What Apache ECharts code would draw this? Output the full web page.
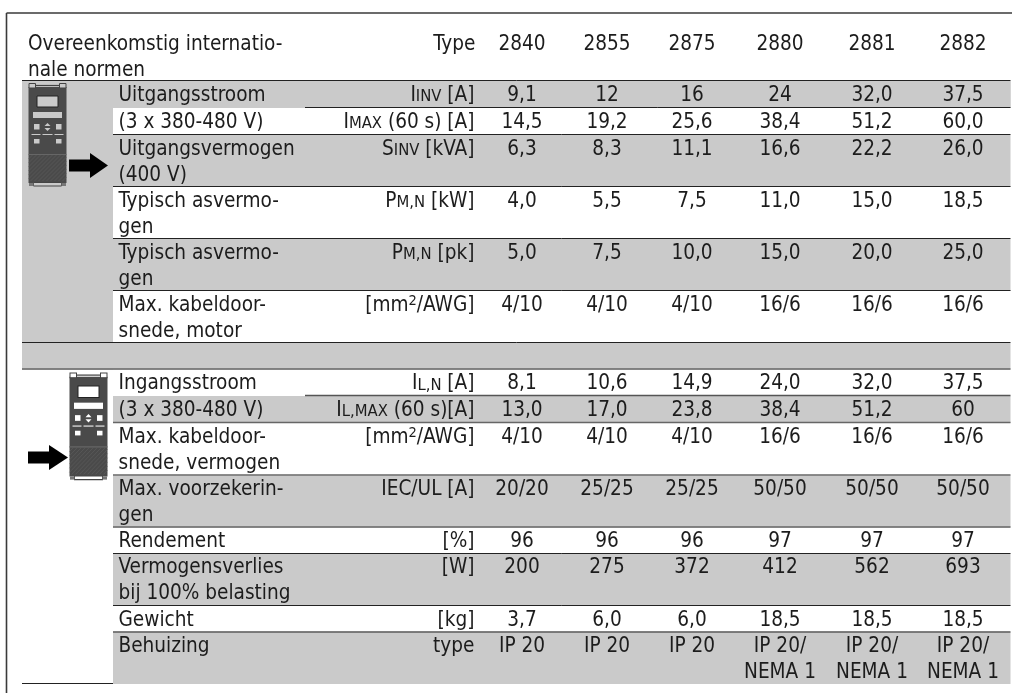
<!DOCTYPE html>
<html><head><meta charset="utf-8">
<style>html,body{margin:0;padding:0;background:#fff}#c{width:1012px;height:693px}</style>
<script src="https://cdn.jsdelivr.net/npm/echarts@6/dist/echarts.min.js"></script>
</head><body><div id="c"></div>
<script>
// ---- table content ----
const typeHeader = ['2840','2855','2875','2880','2881','2882'];
const rowLabels = ['Uitgangsstroom','(3 x 380-480 V)','Uitgangsvermogen\n(400 V)','Typisch asvermo-\ngen','Typisch asvermo-\ngen','Max. kabeldoor-\nsnede, motor',
  'Ingangsstroom','(3 x 380-480 V)','Max. kabeldoor-\nsnede, vermogen','Max. voorzekerin-\ngen','Rendement','Vermogensverlies\nbij 100% belasting','Gewicht','Behuizing'];
const paramLabels = ['{n|I}{s|INV}{n| [A]}','{n|I}{s|MAX}{n| (60 s) [A]}','{n|S}{s|INV}{n| [kVA]}','{n|P}{s|M,N}{n| [kW]}','{n|P}{s|M,N}{n| [pk]}','{n|[mm}{u|2}{n|/AWG]}',
  '{n|I}{s|L,N}{n| [A]}','{n|I}{s|L,MAX}{n| (60 s)[A]}','{n|[mm}{u|2}{n|/AWG]}','{n|IEC/UL [A]}','{n|[%]}','{n|[W]}','{n|[kg]}','{n|type}'];
const col2840 = ['9,1','14,5','6,3','4,0','5,0','4/10','8,1','13,0','4/10','20/20','96','200','3,7','IP 20'];
const col2855 = ['12','19,2','8,3','5,5','7,5','4/10','10,6','17,0','4/10','25/25','96','275','6,0','IP 20'];
const col2875 = ['16','25,6','11,1','7,5','10,0','4/10','14,9','23,8','4/10','25/25','96','372','6,0','IP 20'];
const col2880 = ['24','38,4','16,6','11,0','15,0','16/6','24,0','38,4','16/6','50/50','97','412','18,5','IP 20/\nNEMA 1'];
const col2881 = ['32,0','51,2','22,2','15,0','20,0','16/6','32,0','51,2','16/6','50/50','97','562','18,5','IP 20/\nNEMA 1'];
const col2882 = ['37,5','60,0','26,0','18,5','25,0','16/6','37,5','60','16/6','50/50','97','693','18,5','IP 20/\nNEMA 1'];
const valueCols = [col2840,col2855,col2875,col2880,col2881,col2882];

// ---- layout (separate from the content) ----
const rowTop = [81,108,135,187,239,291,369.5,396,423,475.5,527.5,553.5,606,632.5];
const rowBottom = [108,135,187,239,291,343,396,423,475.5,527.5,553.5,606,632.5,684];
const colCenter = [522,607,692,780,872,963];
const X = {tableL:22, labelL:113, paramR:474.5, partial:305, tableR:1010.5, labelText:118.5, headText:28};
const GREY = '#cacaca', INK = '#1c1c1c';
const FONT = '"DejaVu Sans Condensed","DejaVu Sans",sans-serif', FS = 20.6;
const TEXT_DY = 1.5;
const greyRows = [0,2,4,7,9,11,13];
const rects = [[X.tableL,81,X.labelL,369.5,GREY],[X.tableL,81,X.tableR,108,GREY],[X.tableL,343,X.tableR,369.5,GREY]];
greyRows.forEach(r=>rects.push([X.labelL,rowTop[r],X.tableR,rowBottom[r],GREY]));
const lines = [
 [X.tableL,80.5,X.tableR,'#222',1],[X.partial,107.5,X.tableR,'#222',1],[X.labelL,134.5,X.tableR,'#222',1],
 [X.labelL,186.5,X.tableR,'#222',1],[X.labelL,238.5,X.tableR,'#222',1],[X.labelL,290.5,X.tableR,'#222',1],
 [X.tableL,342.5,X.tableR,'#222',1],[X.tableL,369,X.tableR,'#666',1.5],[X.partial,395.5,X.tableR,'#555',1.5],
 [X.labelL,422.5,X.tableR,'#666',1.5],[X.labelL,475,X.tableR,'#666',1.5],[X.labelL,527,X.tableR,'#666',1.5],
 [X.labelL,553.5,X.tableR,'#222',1],[X.labelL,605.5,X.tableR,'#222',1],[X.labelL,632,X.tableR,'#555',1.5],
 [X.tableL,683.5,X.labelL,'#222',1]];
const frame = [[6.5,693,6.5,13],[6.5,13,1012,13]];

// text items [x, y, text, align]
const texts = [];
texts.push([X.headText,30+TEXT_DY,'Overeenkomstig internatio-\nnale normen','left']);
texts.push([X.paramR+1,30+TEXT_DY,'Type','right']);
typeHeader.forEach((t,i)=>texts.push([colCenter[i],30+TEXT_DY,t,'center']));
rowLabels.forEach((t,r)=>{
  const y=rowTop[r]+TEXT_DY;
  texts.push([X.labelText,y,t,'left']);
  texts.push([X.paramR,y,paramLabels[r],'right']);
  valueCols.forEach((c,i)=>texts.push([colCenter[i],y,c[r],'center']));
});

function deviceParts(hole){
  const R=(x,y,w,h,f,s)=>({type:'rect',shape:{x,y,width:w,height:h},style:{fill:f,stroke:s||null,lineWidth:s?1:0}});
  const L=(x1,y1,x2,y2,c,w)=>({type:'line',shape:{x1,y1,x2,y2},style:{stroke:c,lineWidth:w}});
  const DARK='#4a4a4a';
  const out=[R(0,4,38,96,DARK)];
  out.push(R(0.5,0.5,6.5,4.5,hole,'#444'),R(31,0.5,6.5,4.5,hole,'#444'),L(7,2.5,31,2.5,'#444',1.2));
  out.push(R(5,99.5,28,3.5,hole,'#444'),R(0.5,100,4.5,3,'#777'),R(33,100,4.5,3,'#777'));
  out.push(R(8.5,13,21,11,hole,'#222'),R(4.5,29,29,6,hole),R(5.5,41,5.5,5.5,hole),R(27.5,41,5.5,5.5,hole),R(5.5,56,5.5,4.5,hole),R(27.5,56,5.5,4.5,hole));
  out.push({type:'polygon',shape:{points:[[16,43],[19,40],[22,43]]},style:{fill:hole}});
  out.push({type:'polygon',shape:{points:[[16,45],[19,48],[22,45]]},style:{fill:hole}});
  out.push(L(3,51.5,12,51.5,hole,1),L(14,51.5,24,51.5,hole,1),L(26,51.5,35,51.5,hole,1));
  out.push(L(0,71.5,38,71.5,'#666',1));
  for(let k=-26;k<38;k+=4){
    const x0=Math.max(0,k),x1=Math.min(38,k+26);
    out.push(L(x0,98-(x0-k),x1,98-(x1-k),'#5c5c5c',0.7));
  }
  return out;
}
function arrowParts(shaftW,headW,h){
  return [
   {type:'rect',shape:{x:0,y:h/2-6,width:shaftW,height:12},style:{fill:'#000'}},
   {type:'polygon',shape:{points:[[shaftW-1,0],[shaftW+headW,h/2],[shaftW-1,h]]},style:{fill:'#000'}}];
}
const icons = [
  {type:'group',x:28.5,y:83,children:deviceParts('#cacaca')},
  {type:'group',x:69,y:153,children:arrowParts(22,17,25)},
  {type:'group',x:69.5,y:372.5,scaleY:1.04,children:deviceParts('#ffffff')},
  {type:'group',x:28,y:445,children:arrowParts(22,18,25)}];

const chart = echarts.init(document.getElementById('c'),null,{renderer:'canvas'});
chart.setOption({
  animation:false,
  grid:{left:0,right:0,top:0,bottom:0},
  xAxis:{type:'value',min:0,max:1012,show:false},
  yAxis:{type:'value',min:0,max:693,inverse:true,show:false},
  series:[
   {type:'custom',silent:true,clip:false,data:rects,encode:{x:[0,2],y:[1,3]},renderItem:(p,api)=>{
      const r=rects[p.dataIndex],a=api.coord([r[0],r[1]]),b=api.coord([r[2],r[3]]);
      return {type:'rect',shape:{x:a[0],y:a[1],width:b[0]-a[0],height:b[1]-a[1]},style:{fill:r[4]}};}},
   {type:'custom',silent:true,clip:false,data:lines,encode:{x:[0,2],y:1},renderItem:(p,api)=>{
      const l=lines[p.dataIndex],a=api.coord([l[0],l[1]]),b=api.coord([l[2],l[1]]);
      return {type:'line',shape:{x1:a[0],y1:a[1],x2:b[0],y2:b[1]},style:{stroke:l[3],lineWidth:l[4]}};}},
   {type:'custom',silent:true,clip:false,data:frame,encode:{x:[0,2],y:[1,3]},renderItem:(p,api)=>{
      const l=frame[p.dataIndex],a=api.coord([l[0],l[1]]),b=api.coord([l[2],l[3]]);
      return {type:'line',shape:{x1:a[0],y1:a[1],x2:b[0],y2:b[1]},style:{stroke:'#3a3a3a',lineWidth:1.6}};}},
   {type:'custom',silent:true,clip:false,data:icons.map((_,i)=>[0,i]),renderItem:(p)=>icons[p.dataIndex]},
   {type:'custom',silent:true,clip:false,data:texts.map(t=>[t[0],t[1]]),z:5,renderItem:(p,api)=>{
      const t=texts[p.dataIndex],a=api.coord([t[0],t[1]]);
      return {type:'text',x:a[0],y:a[1],style:{text:t[2],align:t[3],verticalAlign:'top',fill:INK,
        font:FS+'px '+FONT,lineHeight:26,
        rich:{n:{font:FS+'px '+FONT,fill:INK,lineHeight:26},
              s:{font:'16.5px '+FONT,fill:INK,lineHeight:26,padding:[3,0,0,0]},
              u:{font:'14.5px '+FONT,fill:INK,lineHeight:26,padding:[0,0,9,0]}}}};}}
  ]
});
</script></body></html>
